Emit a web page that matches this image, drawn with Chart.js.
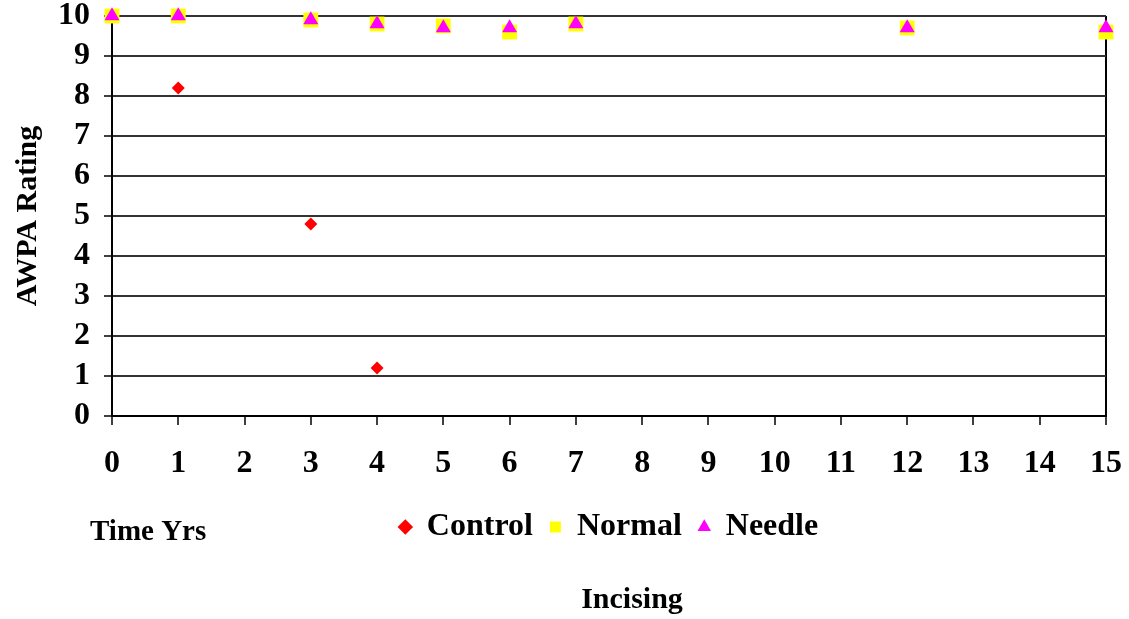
<!DOCTYPE html>
<html>
<head>
<meta charset="utf-8">
<script src="https://cdn.jsdelivr.net/npm/chart.js@4.4.0/dist/chart.umd.min.js"></script>
<style>
  html, body { margin: 0; padding: 0; background: #fff; }
  #wrap { width: 1129px; height: 619px; }
</style>
</head>
<body>
<div id="wrap"><canvas id="chartRating"></canvas></div>
<script>
// datos
const years = [0, 1, 3, 4, 5, 6, 7, 12, 15];
const control = [10, 8.2, 4.8, 1.2, null, null, null, null, null];
const normal = [10, 10, 9.9, 9.8, 9.75, 9.6, 9.8, 9.7, 9.6];
const needle = [10, 10, 9.9, 9.8, 9.7, 9.7, 9.8, 9.7, 9.7];
const xTicks = [0, 1, 2, 3, 4, 5, 6, 7, 8, 9, 10, 11, 12, 13, 14, 15];
const yTicks = [0, 1, 2, 3, 4, 5, 6, 7, 8, 9, 10];

function toPoints(vals) {
    return years.map((x, i) => ({ x: x, y: vals[i] })).filter(p => p.y !== null);
}

const serif = 'Liberation Serif, Times New Roman, serif';

// mover leyenda y titulo a la derecha como en el original
const shiftPlugin = {
    id: 'shiftBoxes',
    afterLayout(chart) {
        chart.legend.left += 56; chart.legend.right += 56;
        chart.titleBlock.left += 79; chart.titleBlock.right += 79;
    },
    afterDraw(chart) {
        const ctx = chart.ctx;
        ctx.save();
        ctx.font = 'bold 29px ' + serif;
        ctx.fillStyle = '#000';
        ctx.textBaseline = 'middle';
        ctx.fillText('Time Yrs', 90, 533);
        ctx.restore();
    }
};

new Chart(document.getElementById('chartRating'), {
    type: 'scatter',
    data: {
        datasets: [{
            label: 'Control',
            data: toPoints(control),
            pointStyle: 'rectRot',
            pointRadius: 6.5,
            backgroundColor: '#ff0000',
            borderColor: '#ff0000',
            borderWidth: 0,
            clip: false,
            order: 2
        }, {
            label: 'Normal',
            data: toPoints(normal),
            pointStyle: 'rect',
            pointRadius: 10.5,
            backgroundColor: '#ffff00',
            borderColor: '#ffff00',
            borderWidth: 0,
            clip: false,
            order: 1
        }, {
            label: 'Needle',
            data: toPoints(needle),
            pointStyle: 'triangle',
            pointRadius: 8.7,
            backgroundColor: '#ff00ff',
            borderColor: '#ff00ff',
            borderWidth: 0,
            clip: false,
            order: 0
        }]
    },
    options: {
        responsive: true,
        maintainAspectRatio: false,
        animation: false,
        layout: { autoPadding: false, padding: { top: 16, right: 23, left: 0, bottom: 0 } },
        plugins: {
            tooltip: { enabled: false },
            legend: {
                position: 'bottom',
                labels: {
                    usePointStyle: true,
                    boxWidth: 11,
                    boxHeight: 11,
                    padding: 17,
                    color: '#000',
                    font: { family: serif, size: 32, weight: 'bold', lineHeight: 1 },
                    sort: (a, b) => a.datasetIndex - b.datasetIndex
                }
            },
            title: {
                display: true,
                position: 'bottom',
                text: 'Incising',
                color: '#000',
                padding: { top: 32, bottom: 4 },
                font: { family: serif, size: 30, weight: 'bold', lineHeight: 1 }
            }
        },
        scales: {
            x: {
                type: 'linear',
                min: 0,
                max: 15,
                afterBuildTicks: axis => { axis.ticks = xTicks.map(v => ({ value: v })); },
                afterFit: axis => {
                    axis.height = 78;
                    axis.paddingLeft = 0; axis.paddingRight = 0;
                },
                border: { color: '#000', width: 2 },
                grid: {
                    color: c => (c.tick && c.tick.value === 15) ? '#000' : 'rgba(0,0,0,0)',
                    lineWidth: 2,
                    tickColor: '#000',
                    tickLength: 9,
                    tickWidth: 1.5
                },
                ticks: {
                    color: '#000',
                    padding: 23,
                    maxRotation: 0,
                    autoSkip: false,
                    font: { family: serif, size: 32, weight: 'bold', lineHeight: 1 }
                }
            },
            y: {
                min: 0,
                max: 10,
                afterBuildTicks: axis => { axis.ticks = yTicks.map(v => ({ value: v })); },
                afterFit: axis => {
                    axis.width = 112;
                    axis.paddingTop = 0; axis.paddingBottom = 0;
                },
                border: { color: '#000', width: 2 },
                grid: {
                    color: '#333',
                    lineWidth: 2,
                    tickColor: '#000',
                    tickLength: 8,
                    tickWidth: 1.5
                },
                ticks: {
                    color: '#000',
                    padding: 14,
                    autoSkip: false,
                    font: { family: serif, size: 32, weight: 'bold', lineHeight: 1 }
                },
                title: {
                    display: true,
                    text: 'AWPA Rating',
                    color: '#000',
                    padding: { top: 13, bottom: 0 },
                    font: { family: serif, size: 30, weight: 'bold', lineHeight: 1 }
                }
            }
        }
    },
    plugins: [shiftPlugin]
});
</script>
</body>
</html>
